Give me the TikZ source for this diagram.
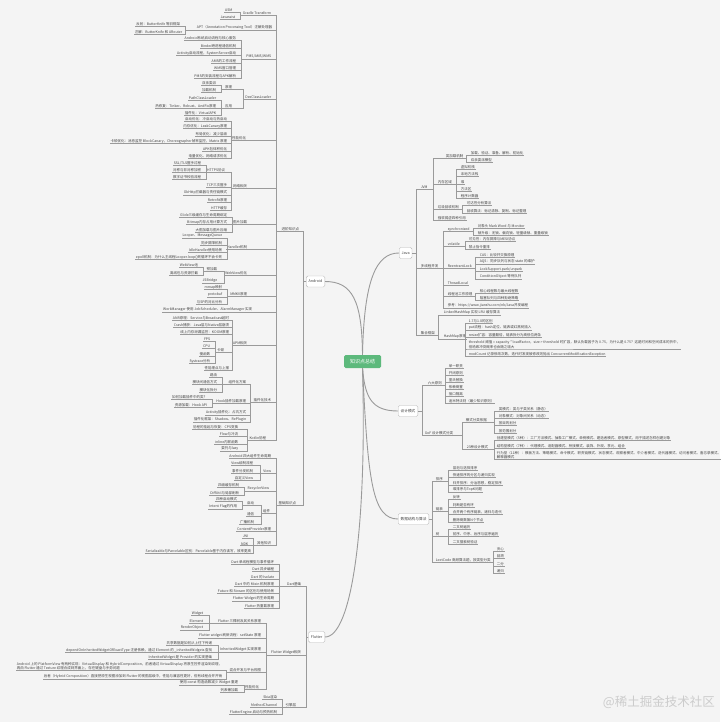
\documentclass[tikz,border=0pt]{standalone}
\usepackage{fontspec}
\newfontfamily\cjk{Noto Sans CJK SC}
\definecolor{ln}{HTML}{9A9A9A}
\definecolor{bg}{HTML}{F4F4F4}
\definecolor{ctrg}{HTML}{5DB97C}
\definecolor{tx}{HTML}{444444}
\tikzset{
 leaf/.style={font=\cjk\fontsize{3.5}{4.2}\selectfont, inner xsep=0.6pt, inner ysep=0.5pt, text=tx},
 conn/.style={draw=ln, line width=0.5pt},
 curve/.style={draw=ln, line width=0.9pt},
 box/.style={draw=gray!55, fill=white, rounded corners=1.5pt, font=\cjk\fontsize{3.7}{4.4}\selectfont, inner xsep=2.4pt, inner ysep=1pt, minimum height=11pt, text=tx},
}
\newcommand\lnd[4]{\node[leaf,anchor=south east] (#1) at (#2,#3+2.2) {#4};}
\newcommand\rnd[4]{\node[leaf,anchor=south west] (#1) at (#2,#3+2.2) {#4};}
\newcommand\lcn[3]{\draw[conn] (#1.south west) -- (#1.south west -| #2,0) |- (#3.south east) -- (#3.south west);}
\newcommand\rcn[3]{\draw[conn] (#1.south east) -- (#1.south east -| #2,0) |- (#3.south west) -- (#3.south east);}
\newcommand\lbc[3]{\draw[conn] (#1.west) -- (#1.west -| #2,0) |- (#3.south east) -- (#3.south west);}
\newcommand\rbc[3]{\draw[conn] (#1.east) -- (#1.east -| #2,0) |- (#3.south west) -- (#3.south east);}
\begin{document}
\begin{tikzpicture}[x=1pt,y=-1pt]
\useasboundingbox (0,0) rectangle (720,727);
\fill[white] (0,0) rectangle (720,727);
\fill[bg] (0,0) rectangle (720,722);

% ---------- centre and main branches ----------
\node[fill=ctrg, text=white, rounded corners=1.5pt, font=\cjk\fontsize{5}{6}\selectfont, minimum width=37pt, minimum height=13pt, inner sep=1pt] (ctr) at (362.5,361.5) {知识点总结};
\node[box, anchor=east] (and) at (325,281.5) {Android};
\node[box, anchor=west] (java) at (399,253) {Java};
\node[box, anchor=west] (dp) at (398,411) {设计模式};
\node[box, anchor=west] (ds) at (398,519) {数据结构与算法};
\node[box, anchor=east] (fl) at (325,637) {Flutter};

\draw[curve] (ctr.north) .. controls (362,300) and (352,281.5) .. (and.east);
\draw[curve] (ctr.north) .. controls (364,280) and (376,253) .. (java.west);
\draw[curve] (ctr.south) .. controls (365,398) and (372,411) .. (dp.west);
\draw[curve] (ctr.south) .. controls (368,480) and (372,519) .. (ds.west);
\draw[curve] (ctr.south) .. controls (367,525) and (352,637) .. (fl.east);

% ---------- Android ----------
\lnd{A}{300}{229}{进阶知识点}
\lnd{B}{297}{503}{基础知识点}
\lbc{and}{303}{A}
\lbc{and}{303}{B}

\lnd{a1}{272}{13}{Gradle Transform}
\lnd{a1x}{233}{10}{ASM}
\lnd{a1y}{236}{17}{Javassist}
\lnd{a2}{273}{28}{APT（Annotation Processing Tool）注解处理器}
\lnd{a2x}{181}{24}{反射：ButterKnife 等旧框架}
\lnd{a2y}{183}{32}{注解：ButterKnife 和 ARouter}
\lnd{a3}{272}{57}{PMS/AMS/WMS}
\lnd{a3a}{237}{38.5}{Android系统启动流程与核心服务}
\lnd{a3b}{237}{46}{Binder跨进程通信机制}
\lnd{a3c}{237}{53.5}{Activity启动流程，SystemServer启动}
\lnd{a3d}{237}{61}{AMS的工作流程}
\lnd{a3e}{237}{68.5}{WMS窗口管理}
\lnd{a3f}{237}{76}{PMS的安装流程与APK解析}
\lnd{a4}{272}{97}{DexClassLoader}
\lnd{a4a}{233}{87}{原理}
\lnd{a4a1}{217}{83}{双亲委派}
\lnd{a4a2}{217}{90.5}{加载机制}
\lnd{a4b}{233}{106}{应用}
\lnd{a4b1}{217}{98.5}{PathClassLoader}
\lnd{a4b2}{217}{106}{热修复：Tinker、Robust、AndFix原理}
\lnd{a4b3}{217}{113.5}{插件化：VirtualAPK}
\lnd{a5}{247}{138}{性能优化}
\lnd{a5a}{228}{119}{启动优化：冷启动与热启动}
\lnd{a5b}{228}{126.5}{内存优化：LeakCanary原理}
\lnd{a5c}{228}{134}{布局优化：减少层级}
\lnd{a5d}{228}{141.5}{卡顿优化：消息监控 BlockCanary，Choreographer帧率监控，Matrix 原理}
\lnd{a5e}{228}{149}{APK包体积优化}
\lnd{a5f}{228}{156.5}{电量优化、网络请求优化}
\lnd{a6}{248}{186}{网络相关}
\lnd{a6a}{226}{170.5}{HTTPS协议}
\lnd{a6a1}{202}{163.5}{SSL/TLS握手过程}
\lnd{a6a2}{202}{170.5}{对称与非对称加密}
\lnd{a6a3}{202}{177.5}{数字证书校验流程}
\lnd{a6b}{228}{185.5}{TCP三次握手}
\lnd{a6c}{228}{193}{OkHttp拦截器与责任链模式}
\lnd{a6d}{228}{200.5}{Retrofit原理}
\lnd{a6e}{228}{208}{HTTP缓存}
\lnd{a7}{248}{222}{图片加载}
\lnd{a7a}{228}{215}{Glide三级缓存与生命周期绑定}
\lnd{a7b}{228}{222.5}{Bitmap内存占用计算方式}
\lnd{a7c}{228}{230}{大图加载与图片压缩}
\lnd{a8}{248}{247}{Handler机制}
\lnd{a8a}{223}{236}{Looper、MessageQueue}
\lnd{a8b}{223}{243.5}{同步屏障机制}
\lnd{a8c}{223}{250.5}{IdleHandler使用场景}
\lnd{a8d}{223}{257.5}{epoll机制：为什么主线程Looper.loop()死循环不会卡死}
\lnd{a9}{248}{273}{WebView优化}
\lnd{a9a}{218}{269}{预加载}
\lnd{a9a1}{199}{265.5}{WebView池}
\lnd{a9a2}{199}{273}{离线包与资源拦截}
\lnd{a9b}{218}{281}{JSBridge}
\lnd{a10}{248}{294}{MMKV原理}
\lnd{a10a}{223}{287.5}{mmap映射}
\lnd{a10b}{223}{295}{protobuf}
\lnd{a10c}{223}{302}{与SP的对比分析}
\lnd{a11}{253}{310}{WorkManager 使用 JobScheduler、AlarmManager 实现}
\lnd{a12}{248}{343}{APM相关}
\lnd{a12a}{230}{318}{ANR原理：Service与Broadcast超时}
\lnd{a12b}{230}{325}{Crash捕获：Java层与Native层崩溃}
\lnd{a12c}{230}{332}{线上内存泄漏监控：KOOM原理}
\lnd{a12d}{225}{350}{卡顿}
\lnd{a12d1}{211}{339}{FPS}
\lnd{a12d2}{211}{346.5}{CPU}
\lnd{a12d3}{211}{354}{慢函数}
\lnd{a12d4}{211}{361.5}{Systrace分析}
\lnd{a12e}{230}{368.5}{性能埋点与上报}
\lnd{a13}{272}{400}{插件化技术}
\lnd{a13a}{247}{382}{组件化方案}
\lnd{a13a1}{218}{375.5}{路由}
\lnd{a13a2}{218}{382.5}{模块间通信方式}
\lnd{a13a3}{218}{390}{模块化拆分}
\lnd{a13b}{247}{401}{Hook插件加载原理}
\lnd{a13b1}{208}{397.5}{如何加载插件中的类？}
\lnd{a13b2}{208}{405}{资源加载：Hook API}
\lnd{a13c}{247}{413}{Activity插件化：占坑方式}
\lnd{a13d}{247}{420}{插件化框架：Shadow、RePlugin}
\lnd{a14}{267}{438}{Kotlin协程}
\lnd{a14a}{239}{427}{协程的挂起与恢复：CPS变换}
\lnd{a14b}{239}{434.5}{Flow与冷流}
\lnd{a14c}{239}{442}{inline内联函数}
\lnd{a14d}{239}{449}{委托与lazy}

\foreach \c in {a1,a2,a3,a4,a5,a6,a7,a8,a9,a10,a11,a12,a13,a14} {\lcn{A}{276}{\c}}
\foreach \c in {a1x,a1y} {\lcn{a1}{240}{\c}}
\foreach \c in {a2x,a2y} {\lcn{a2}{185}{\c}}
\foreach \c in {a3a,a3b,a3c,a3d,a3e,a3f} {\lcn{a3}{241}{\c}}
\foreach \c in {a4a,a4b} {\lcn{a4}{243}{\c}}
\foreach \c in {a4a1,a4a2} {\lcn{a4a}{221}{\c}}
\foreach \c in {a4b1,a4b2,a4b3} {\lcn{a4b}{221}{\c}}
\foreach \c in {a5a,a5b,a5c,a5d,a5e,a5f} {\lcn{a5}{231}{\c}}
\foreach \c in {a6a,a6b,a6c,a6d,a6e} {\lcn{a6}{231}{\c}}
\foreach \c in {a6a1,a6a2,a6a3} {\lcn{a6a}{206}{\c}}
\foreach \c in {a7a,a7b,a7c} {\lcn{a7}{232}{\c}}
\foreach \c in {a8a,a8b,a8c,a8d} {\lcn{a8}{227}{\c}}
\foreach \c in {a9a,a9b} {\lcn{a9}{224}{\c}}
\foreach \c in {a9a1,a9a2} {\lcn{a9a}{203}{\c}}
\foreach \c in {a10a,a10b,a10c} {\lcn{a10}{227}{\c}}
\foreach \c in {a12a,a12b,a12c,a12d,a12e} {\lcn{a12}{232}{\c}}
\foreach \c in {a12d1,a12d2,a12d3,a12d4} {\lcn{a12d}{215}{\c}}
\foreach \c in {a13a,a13b,a13c,a13d} {\lcn{a13}{250}{\c}}
\foreach \c in {a13a1,a13a2,a13a3} {\lcn{a13a}{222}{\c}}
\foreach \c in {a13b1,a13b2} {\lcn{a13b}{212}{\c}}
\foreach \c in {a14a,a14b,a14c,a14d} {\lcn{a14}{247}{\c}}

\lnd{b1}{272}{456}{Android 四大组件生命周期}
\lnd{b2}{272}{471}{View}
\lnd{b2a}{254}{463.5}{View绘制流程}
\lnd{b2b}{254}{471}{事件分发机制}
\lnd{b2c}{254}{478.5}{自定义View}
\lnd{b3}{270}{489}{RecyclerView}
\lnd{b3a}{240}{485.5}{四级缓存机制}
\lnd{b3b}{240}{493}{DiffUtil与局部刷新}
\lnd{b4}{271}{511}{组件}
\lnd{b4a}{255}{503}{启动}
\lnd{b4a1}{238}{499.5}{四种启动模式}
\lnd{b4a2}{238}{507}{Intent Flag的作用}
\lnd{b4b}{255}{514.5}{通信}
\lnd{b4c}{255}{522}{广播机制}
\lnd{b5}{272}{529}{ContentProvider原理}
\lnd{b6}{272}{543.5}{其他知识}
\lnd{b6a}{249}{536}{JNI}
\lnd{b6b}{249}{543.5}{NDK}
\lnd{b6c}{252}{551}{Serializable与Parcelable区别：Parcelable基于内存读写，效率更高}

\foreach \c in {b1,b2,b3,b4,b5,b6} {\lcn{B}{276}{\c}}
\foreach \c in {b2a,b2b,b2c} {\lcn{b2}{260}{\c}}
\foreach \c in {b3a,b3b} {\lcn{b3}{244}{\c}}
\foreach \c in {b4a,b4b,b4c} {\lcn{b4}{261}{\c}}
\foreach \c in {b4a1,b4a2} {\lcn{b4a}{242}{\c}}
\foreach \c in {b6a,b6b,b6c} {\lcn{b6}{253.5}{\c}}

% ---------- Flutter ----------
\lnd{f1}{302}{584}{Dart基础}
\lnd{f1a}{275}{562}{Dart 单线程模型与事件循环}
\lnd{f1b}{275}{569.5}{Dart 异步编程}
\lnd{f1c}{275}{577}{Dart 的 Isolate}
\lnd{f1d}{275}{584}{Dart 中的 Mixin 机制原理}
\lnd{f1e}{275}{591.5}{Future 和 Stream 的区别与使用场景}
\lnd{f1f}{275}{599}{Flutter Widget 的生命周期}
\lnd{f1g}{275}{606}{Flutter 热重载原理}
\lnd{f2}{302}{653}{Flutter Widget相关}
\lnd{f2a}{262}{621}{Flutter 三棵树及其关系原理}
\lnd{f2a1}{204}{613.5}{Widget}
\lnd{f2a2}{204}{621}{Element}
\lnd{f2a3}{204}{628}{RenderObject}
\lnd{f2b}{262}{636}{Flutter widget 刷新流程：setState 原理}
\lnd{f2c}{262}{650}{InheritedWidget 实现原理}
\lnd{f2c1}{213}{643}{共享数据是如何从上往下传递}
\lnd{f2c2}{213}{650.5}{dependOnInheritedWidgetOfExactType 注册依赖，通过 Element 的 \_inheritedWidgets 查找}
\lnd{f2c3}{213}{657.5}{InheritedWidget 是 Provider 的实现基础}
\lnd{f2d}{262}{670}{混合开发与平台视图}
\node[leaf, align=left, anchor=south east] (f2d1) at (223,670.7) {Android 上的 PlatformView 有两种实现：VirtualDisplay 和 HybridComposition，前者通过 VirtualDisplay 将原生控件渲染到纹理，\\再由 Flutter 通过 Texture 纹理合成到界面上，存在键盘与手势问题};
\lnd{f2d2}{223}{677}{后者（Hybrid Composition）直接把原生视图添加到 Flutter 的视图层级中，性能与兼容性更好，但有线程合并开销}
\lnd{f2e}{260}{687}{性能优化}
\lnd{f2e1}{239}{683}{使用 const 构造函数减少 Widget 重建}
\lnd{f2e2}{239}{690.5}{列表懒加载}
\lnd{f3}{297}{705}{引擎层}
\lnd{f3a}{278}{697.5}{Skia渲染}
\lnd{f3b}{278}{705}{MethodChannel}
\lnd{f3c}{278}{712.5}{FlutterEngine 启动与预热机制}

\foreach \c in {f1,f2,f3} {\lbc{fl}{306}{\c}}
\foreach \c in {f1a,f1b,f1c,f1d,f1e,f1f,f1g} {\lcn{f1}{279}{\c}}
\foreach \c in {f2a,f2b,f2c,f2d,f2e} {\lcn{f2}{266}{\c}}
\foreach \c in {f2a1,f2a2,f2a3} {\lcn{f2a}{209}{\c}}
\foreach \c in {f2c1,f2c2,f2c3} {\lcn{f2c}{218}{\c}}
\foreach \c in {f2d1,f2d2} {\lcn{f2d}{226}{\c}}
\foreach \c in {f2e1,f2e2} {\lcn{f2e}{244}{\c}}
\foreach \c in {f3a,f3b,f3c} {\lcn{f3}{282}{\c}}

% ---------- Java ----------
\rnd{j1}{420}{187}{JVM}
\rnd{j1a}{445}{156}{类加载机制}
\rnd{j1a1}{470}{153}{加载、验证、准备、解析、初始化}
\rnd{j1a2}{470}{160}{双亲委派模型}
\rnd{j1b}{437}{182}{内存区域}
\rnd{j1b1}{460}{167}{虚拟机栈}
\rnd{j1b2}{460}{174.5}{本地方法栈}
\rnd{j1b3}{460}{182}{堆}
\rnd{j1b4}{460}{189}{方法区}
\rnd{j1b5}{460}{196}{程序计数器}
\rnd{j1c}{437}{207}{垃圾回收机制}
\rnd{j1c1}{466}{203.5}{可达性分析算法}
\rnd{j1c2}{466}{211}{回收算法：标记清除、复制、标记整理}
\rnd{j1d}{437}{218.5}{强软弱虚四种引用}
\rnd{j2}{420}{266}{多线程并发}
\rnd{j2a}{447}{229.5}{synchronized}
\rnd{j2a1}{477}{226}{对象头 Mark Word 与 Monitor}
\rnd{j2a2}{477}{233}{锁升级：无锁、偏向锁、轻量级锁、重量级锁}
\rnd{j2b}{447}{244}{volatile}
\rnd{j2b1}{468}{239.5}{可见性：内存屏障与MESI协议}
\rnd{j2b2}{468}{247}{禁止指令重排}
\rnd{j2c}{447}{266}{ReentrantLock}
\rnd{j2c1}{479}{255}{CAS：比较并交换原理}
\rnd{j2c2}{479}{262}{AQS：同步队列与状态 state 的维护}
\rnd{j2c3}{479}{269.5}{LockSupport.park/unpark}
\rnd{j2c4}{479}{277}{ConditionObject 等待队列}
\rnd{j2d}{447}{283.5}{ThreadLocal}
\rnd{j2e}{447}{294.5}{线程池工作原理}
\rnd{j2e1}{479}{291}{核心线程数与最大线程数}
\rnd{j2e2}{479}{298}{阻塞队列与四种拒绝策略}
\rnd{j2f}{447}{306}{参考：https://www.jianshu.com/nb/Java并发编程}
\rnd{j3}{420}{333}{集合框架}
\rnd{j3a}{443}{313}{LinkedHashMap 实现 LRU 缓存算法}
\rnd{j3b}{443}{337}{HashMap原理}
\rnd{j3b1}{468}{321}{1.7与1.8的区别}
\rnd{j3b2}{468}{328}{put流程：hash定位、链表或红黑树插入}
\rnd{j3b3}{468}{335}{resize扩容：容量翻倍，链表拆分为高低位两条}
\node[leaf, align=left, anchor=south west] (j3b4) at (468,349) {threshold 阈值 = capacity * loadFactor，size > threshold 时扩容，默认负载因子为 0.75，为什么是 0.75？这是时间和空间成本的折中，\\但哈希冲突概率也会随之增大};
\rnd{j3b5}{468}{354.5}{modCount 记录修改次数，迭代时发现被修改则抛出 ConcurrentModificationException}

\foreach \c in {j1,j2,j3} {\rbc{java}{416}{\c}}
\foreach \c in {j1a,j1b,j1c,j1d} {\rcn{j1}{433}{\c}}
\foreach \c in {j1a1,j1a2} {\rcn{j1a}{466}{\c}}
\foreach \c in {j1b1,j1b2,j1b3,j1b4,j1b5} {\rcn{j1b}{456}{\c}}
\foreach \c in {j1c1,j1c2} {\rcn{j1c}{462}{\c}}
\foreach \c in {j2a,j2b,j2c,j2d,j2e,j2f} {\rcn{j2}{443}{\c}}
\foreach \c in {j2a1,j2a2} {\rcn{j2a}{473}{\c}}
\foreach \c in {j2b1,j2b2} {\rcn{j2b}{465}{\c}}
\foreach \c in {j2c1,j2c2,j2c3,j2c4} {\rcn{j2c}{475}{\c}}
\foreach \c in {j2e1,j2e2} {\rcn{j2e}{475}{\c}}
\foreach \c in {j3a,j3b} {\rcn{j3}{438}{\c}}
\foreach \c in {j3b1,j3b2,j3b3,j3b4,j3b5} {\rcn{j3b}{465}{\c}}

% ---------- 设计模式 ----------
\rnd{d1}{427}{383.5}{六大原则}
\rnd{d1a}{448}{366}{单一职责}
\rnd{d1b}{448}{373}{开闭原则}
\rnd{d1c}{448}{380}{里氏替换}
\rnd{d1d}{448}{387}{依赖倒置}
\rnd{d1e}{448}{394}{接口隔离}
\rnd{d1f}{448}{401.5}{迪米特法则（最少知识原则）}
\rnd{d2}{424}{433}{GoF 设计模式分类}
\rnd{d2a}{465}{420}{模式分类依据}
\rnd{d2a1}{498}{409}{类模式：类与子类关系（静态）}
\rnd{d2a2}{498}{416}{对象模式：对象间关系（动态）}
\rnd{d2a3}{498}{423.5}{按目的划分}
\rnd{d2a4}{498}{431}{按范围划分}
\rnd{d2b}{466}{447}{23种设计模式}
\rnd{d2b1}{496}{438.5}{创建型模式（5种）：工厂方法模式、抽象工厂模式、单例模式、建造者模式、原型模式，用于描述怎样创建对象}
\rnd{d2b2}{496}{446}{结构型模式（7种）：代理模式、适配器模式、桥接模式、装饰、外观、享元、组合}
\node[leaf, align=left, anchor=south west] (d2b3) at (496,459.5) {行为型（11种）：模板方法、策略模式、命令模式、职责链模式、状态模式、观察者模式、中介者模式、迭代器模式、访问者模式、备忘录模式、\\解释器模式};

\foreach \c in {d1,d2} {\rbc{dp}{422}{\c}}
\foreach \c in {d1a,d1b,d1c,d1d,d1e,d1f} {\rcn{d1}{445}{\c}}
\foreach \c in {d2a,d2b} {\rcn{d2}{462}{\c}}
\foreach \c in {d2a1,d2a2,d2a3,d2a4} {\rcn{d2a}{494}{\c}}
\foreach \c in {d2b1,d2b2,d2b3} {\rcn{d2b}{494}{\c}}

% ---------- 数据结构与算法 ----------
\rnd{s1}{435}{479}{排序}
\rnd{s1a}{452}{468}{冒泡与选择排序}
\rnd{s1b}{452}{475.5}{快速排序的分区与递归实现}
\rnd{s1c}{452}{483}{归并排序：分治思想，稳定排序}
\rnd{s1d}{452}{490}{堆排序与TopK问题}
\rnd{s2}{435}{509}{链表}
\rnd{s2a}{452}{497.5}{反转}
\rnd{s2b}{452}{505}{判断是否有环}
\rnd{s2c}{452}{512.5}{合并两个有序链表，递归与迭代}
\rnd{s2d}{452}{520}{删除倒数第N个节点}
\rnd{s3}{435}{534}{树}
\rnd{s3a}{452}{527}{二叉树遍历}
\rnd{s3b}{452}{534.5}{前序、中序、后序与层序遍历}
\rnd{s3c}{452}{542}{二叉搜索树验证}
\rnd{s4}{435}{560}{LeetCode 高频算法题，按类型分类}
\rnd{s4a}{496}{549}{贪心}
\rnd{s4b}{496}{556.5}{回溯}
\rnd{s4c}{496}{564}{二分}
\rnd{s4d}{496}{571.5}{递归}

\foreach \c in {s1,s2,s3,s4} {\rbc{ds}{432}{\c}}
\foreach \c in {s1a,s1b,s1c,s1d} {\rcn{s1}{448}{\c}}
\foreach \c in {s2a,s2b,s2c,s2d} {\rcn{s2}{448}{\c}}
\foreach \c in {s3a,s3b,s3c} {\rcn{s3}{448}{\c}}
\foreach \c in {s4a,s4b,s4c,s4d} {\rcn{s4}{493}{\c}}

% ---------- watermark ----------
\node[font=\cjk\fontsize{12.5}{14}\selectfont, text=gray!40, anchor=east, inner sep=0pt] (wm) at (715,702) {@稀土掘金技术社区};
\end{tikzpicture}
\end{document}
